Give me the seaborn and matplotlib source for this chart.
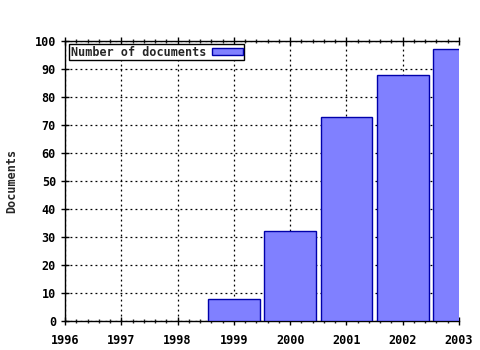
import matplotlib
matplotlib.use("Agg")
import matplotlib.pyplot as plt
import seaborn as sns
import pandas as pd
from matplotlib.ticker import MultipleLocator, FuncFormatter

years = [1999, 2000, 2001, 2002, 2003]
documents = [8, 32, 73, 88, 97]
series_label = "Number of documents"
y_label = "Documents"

sns.set_style("white")
plt.rcParams['font.family'] = ['DejaVu Sans Mono']
plt.rcParams['font.weight'] = 'bold'

df = pd.DataFrame({"year": years, "docs": documents})

fig = plt.figure(figsize=(4.8, 3.5), dpi=100)
ax = fig.add_axes([65/480, 1 - 321/350, (459-65)/480, (321-41)/350])

sns.barplot(data=df, x="year", y="docs", native_scale=True, width=0.92,
            color="#8080ff", saturation=1, edgecolor="#0000aa", linewidth=1,
            label=series_label, ax=ax, zorder=3)

ax.set_xlim(1996, 2003)
ax.set_ylim(0, 100)
ax.xaxis.set_major_locator(MultipleLocator(1))
ax.xaxis.set_minor_locator(MultipleLocator(0.2))
ax.yaxis.set_major_locator(MultipleLocator(10))
ax.xaxis.set_major_formatter(FuncFormatter(lambda v, p: f"{int(round(v))}"))

ax.grid(True, which="major", color="black", linestyle=(0, (1.5, 2.5)), linewidth=0.9, zorder=0)
ax.set_axisbelow(True)

for s in ["left", "bottom", "top"]:
    ax.spines[s].set_visible(True)
    ax.spines[s].set_color("black")
    ax.spines[s].set_linewidth(1)
ax.spines["right"].set_visible(False)

ax.tick_params(axis="both", which="major", direction="inout", length=6, width=1,
               labelsize=8.5, colors="black", top=True, bottom=True, left=True)
ax.tick_params(axis="x", which="minor", direction="inout", length=3, width=1,
               top=True, bottom=True)
ax.tick_params(axis="x", pad=6)
for lab in ax.get_xticklabels() + ax.get_yticklabels():
    lab.set_fontweight("bold")

ax.set_xlabel("")
ax.set_ylabel(y_label, fontsize=8.5, fontweight="bold", labelpad=12)

leg = ax.legend(loc="upper left", bbox_to_anchor=(0.01, 0.99), markerfirst=False,
                frameon=True, fancybox=False, framealpha=1, edgecolor="black",
                prop={"size": 8.5, "weight": "bold"}, handlelength=2.6, handleheight=0.6,
                borderpad=0.15, handletextpad=0.5, borderaxespad=0)
leg.get_frame().set_linewidth(1)

fig.savefig("out.png", dpi=100)
